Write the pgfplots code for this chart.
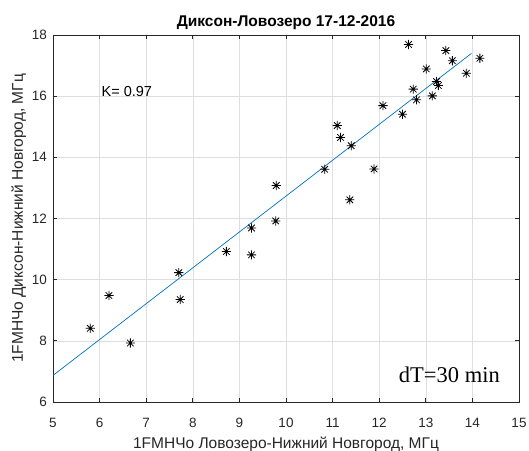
\documentclass[border=0pt]{standalone}
\usepackage{pgfplots}
\pgfplotsset{compat=1.18}
\usepackage{fontspec}
\setmainfont{Liberation Sans}
\newfontfamily\timesfont{Liberation Serif}

\definecolor{mblue}{rgb}{0,0.447,0.741}
\definecolor{axgray}{rgb}{0.15,0.15,0.15}
\definecolor{gridgray}{rgb}{0.87,0.87,0.87}

% eight-armed asterisk marker
\pgfdeclareplotmark{star8}{%
  \pgfpathmoveto{\pgfqpoint{-\pgfplotmarksize}{0pt}}%
  \pgfpathlineto{\pgfqpoint{\pgfplotmarksize}{0pt}}%
  \pgfpathmoveto{\pgfqpoint{0pt}{-\pgfplotmarksize}}%
  \pgfpathlineto{\pgfqpoint{0pt}{\pgfplotmarksize}}%
  \pgfpathmoveto{\pgfqpoint{-0.707\pgfplotmarksize}{-0.707\pgfplotmarksize}}%
  \pgfpathlineto{\pgfqpoint{0.707\pgfplotmarksize}{0.707\pgfplotmarksize}}%
  \pgfpathmoveto{\pgfqpoint{-0.707\pgfplotmarksize}{0.707\pgfplotmarksize}}%
  \pgfpathlineto{\pgfqpoint{0.707\pgfplotmarksize}{-0.707\pgfplotmarksize}}%
  \pgfusepathqstroke
}

\pgfplotstableread{
x y
5.80 8.41
6.20 9.48
6.66 7.93
7.70 10.23
7.73 9.35
8.72 10.92
9.26 11.69
9.26 10.81
9.78 11.92
9.79 13.08
10.83 13.61
11.10 15.04
11.17 14.65
11.40 14.38
11.37 12.61
11.89 13.62
12.08 15.69
12.50 15.41
12.63 17.69
12.73 16.23
12.80 15.88
13.01 16.89
13.14 16.01
13.23 16.48
13.27 16.35
13.43 17.49
13.57 17.16
13.87 16.75
14.16 17.24
}\points

\begin{document}
\begin{tikzpicture}
\begin{axis}[
  scale only axis,
  width=466pt, height=367pt,
  xmin=5, xmax=15, ymin=6, ymax=18,
  xtick={5,...,15},
  ytick={6,8,...,18},
  tick align=inside,
  major tick length=4.5pt,
  grid=major,
  major grid style={gridgray, line width=0.6pt},
  axis line style={axgray, line width=0.7pt},
  tick style={axgray, line width=0.7pt},
  tick label style={font=\fontsize{13.5}{15}\selectfont, text=axgray},
  /pgf/number format/assume math mode=true,
  xticklabel style={yshift=-12.5pt},
  yticklabel style={xshift=-2.5pt},
  xlabel={1FMНЧо Ловозеро-Нижний Новгород, МГц},
  ylabel={1FMНЧо Диксон-Нижний Новгород, МГц},
  label style={font=\fontsize{15.5}{17}\selectfont, text=axgray},
  xlabel style={at={([yshift=-46pt]axis description cs:0.5,0)}, anchor=base},
  ylabel style={at={([xshift=-30pt]axis description cs:0,0.5)}, anchor=base},
  title={\textbf{Диксон-Ловозеро 17-12-2016}},
  title style={font=\fontsize{15.5}{17}\selectfont, at={([yshift=2pt]axis description cs:0.5,1)}, anchor=base},
]
\addplot[only marks, mark=star8, mark size=4.6pt, black, line width=0.8pt] table[x=x, y=y] {\points};
\addplot[mblue, line width=0.7pt] coordinates {(5,6.87) (13.98,17.40)};
\node[anchor=west, inner sep=0pt, font=\fontsize{14.5}{16}\selectfont] at (axis cs:6.04,16.15) {K= 0.97};
\node[anchor=west, inner sep=0pt, font=\timesfont\fontsize{22.5}{26}\selectfont] at (axis cs:12.42,6.89) {dT=30 min};
\end{axis}
\pgfresetboundingbox
\path[use as bounding box] ([shift={(-53pt,-48pt)}]current axis.south west) rectangle ([shift={(10pt,35pt)}]current axis.north east);
\end{tikzpicture}
\end{document}
